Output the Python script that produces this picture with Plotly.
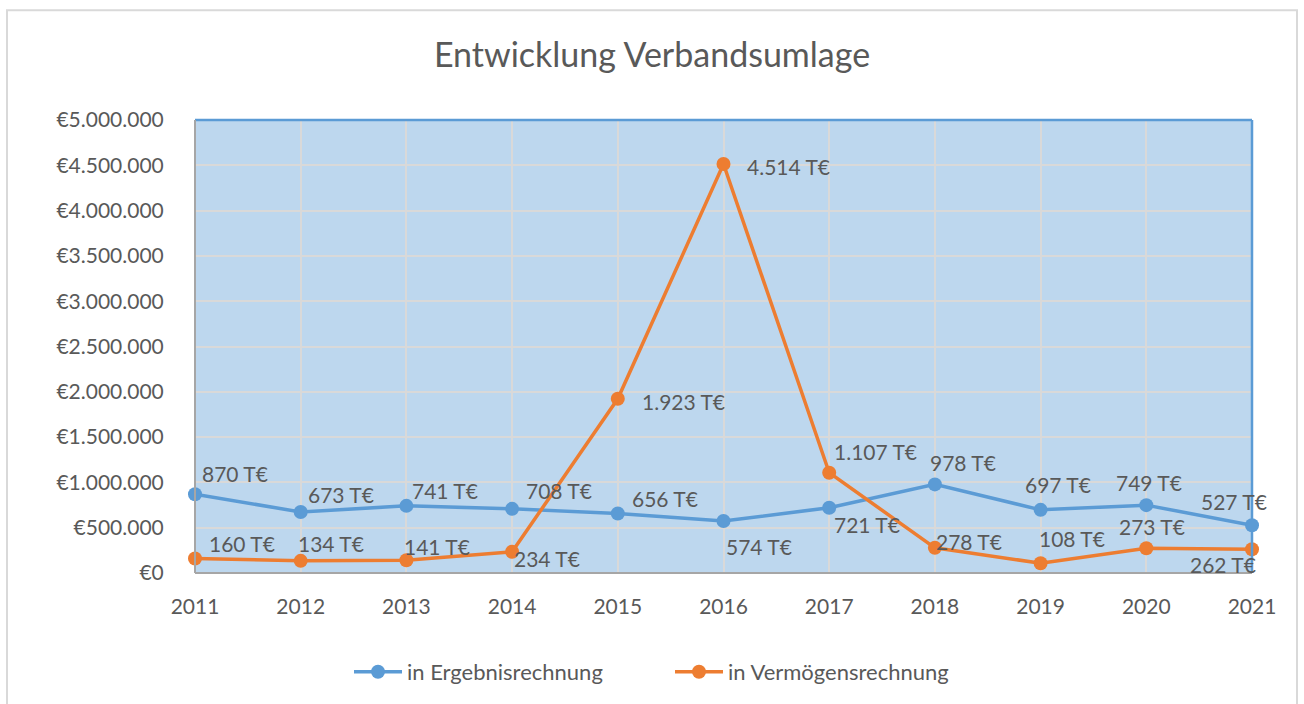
import plotly.graph_objects as go

years = [2011, 2012, 2013, 2014, 2015, 2016, 2017, 2018, 2019, 2020, 2021]
ergebnis_t = [870, 673, 741, 708, 656, 574, 721, 978, 697, 749, 527]
vermoegen_t = [160, 134, 141, 234, 1923, 4514, 1107, 278, 108, 273, 262]
y_ticks = [0, 500000, 1000000, 1500000, 2000000, 2500000, 3000000, 3500000, 4000000, 4500000, 5000000]
series_names = ["in Ergebnisrechnung", "in Vermögensrechnung"]

# label offsets (px): left edge shift from point, vertical shift (down positive)
erg_off = [(6, -21), (6, -18), (5, -15), (13, -18), (13, -15), (1, 25),
           (4, 17), (-6, -22), (-17, -25), (-31, -23), (-52, -24)]
ver_off = [(13, -15), (-4, -17), (-3, -14), (1, 7), (23, 3), (22, 2),
           (4, -21), (0, -6), (-3, -25), (-28, -22), (-63, 15)]

def lab(v):
    return f"{v:,}".replace(",", ".") + " T€"

def fmt_tick(v):
    return "€" + f"{v:,}".replace(",", ".")

FONT = "Lato"
TXT = "#595959"
W, H = 1304, 704
L, R, T, B = 195, 1252, 120, 574
pw, ph = R - L, B - T

def px(x):
    return (x - L) / pw

def py(y):
    return (B - y) / ph

fig = go.Figure()
colors = ["#5b9bd5", "#ed7d31"]
for name, vals, col in zip(series_names, [ergebnis_t, vermoegen_t], colors):
    fig.add_trace(go.Scatter(
        x=years, y=[v * 1000 for v in vals], name=name, mode="lines+markers",
        line=dict(color=col, width=3.5), marker=dict(size=14, color=col),
        cliponaxis=False,
    ))

annotations = []
for vals, offs in [(ergebnis_t, erg_off), (vermoegen_t, ver_off)]:
    for yr, v, (dx, dy) in zip(years, vals, offs):
        annotations.append(dict(
            x=yr, y=v * 1000, xref="x", yref="y", text=lab(v), showarrow=False,
            xanchor="left", yanchor="middle", xshift=dx, yshift=-dy,
            font=dict(family=FONT, size=21, color=TXT), borderpad=0,
        ))

fig.update_layout(
    width=W, height=H,
    margin=dict(l=L, r=W - R, t=T, b=H - B),
    paper_bgcolor="white", plot_bgcolor="#bdd7ee",
    font=dict(family=FONT, color=TXT, size=21),
    title=dict(text="Entwicklung Verbandsumlage", x=0.5, xanchor="center",
               y=1 - 55 / H, yanchor="middle", yref="container",
               font=dict(family=FONT, size=34, color=TXT)),
    showlegend=True,
    legend=dict(orientation="h", x=px(670), xanchor="center", y=py(672), yanchor="middle",
                font=dict(family=FONT, size=22, color=TXT), itemwidth=48,
                entrywidth=258, entrywidthmode="pixels",
                bgcolor="rgba(0,0,0,0)"),
    xaxis=dict(range=[2011, 2021], tickmode="array", tickvals=years,
               ticktext=[str(y) for y in years], showgrid=True, gridcolor="#d9d9d9",
               gridwidth=1.5, zeroline=False, showline=False,
               ticks="outside", ticklen=15, tickcolor="rgba(0,0,0,0)",
               tickfont=dict(family=FONT, size=21, color=TXT)),
    yaxis=dict(range=[0, 5000000], tickmode="array", tickvals=y_ticks,
               ticktext=[fmt_tick(v) for v in y_ticks], showgrid=True, gridcolor="#d9d9d9",
               gridwidth=1.5, zeroline=False, showline=False,
               ticks="outside", ticklen=26, tickcolor="rgba(0,0,0,0)",
               tickfont=dict(family=FONT, size=21, color=TXT)),
    annotations=annotations,
    shapes=[
        dict(type="rect", xref="paper", yref="paper", x0=px(7), x1=px(1297), y0=py(715), y1=py(10),
             line=dict(color="#d9d9d9", width=2), fillcolor="rgba(0,0,0,0)", layer="below"),
        dict(type="line", xref="paper", yref="paper", x0=0, x1=1, y0=1, y1=1,
             line=dict(color="#5b9bd5", width=2.5)),
        dict(type="line", xref="paper", yref="paper", x0=1, x1=1, y0=0, y1=1,
             line=dict(color="#5b9bd5", width=2.5)),
        dict(type="line", xref="paper", yref="paper", x0=0, x1=0, y0=0, y1=1,
             line=dict(color="#a6a6a6", width=2)),
        dict(type="line", xref="paper", yref="paper", x0=0, x1=1, y0=0, y1=0,
             line=dict(color="#a6a6a6", width=2)),
    ],
)

fig.write_html("out.html", config={"displayModeBar": False},
               post_script="document.body.style.margin='0';document.body.style.overflow='hidden';")
